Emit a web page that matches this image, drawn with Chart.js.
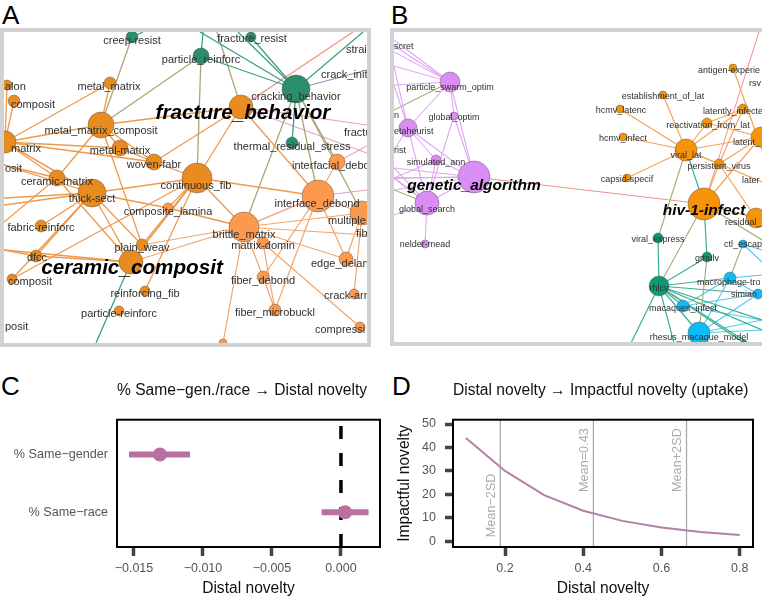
<!DOCTYPE html>
<html>
<head>
<meta charset="utf-8">
<style>
html,body{margin:0;padding:0;background:#fff;width:762px;height:598px;overflow:hidden}
canvas{position:absolute;display:block}
#netA,#netB{filter:blur(0.3px)}
.frame{position:absolute;border:4px solid #d2d2d2;box-sizing:border-box}
.letter{position:absolute;font:26px/30px "Liberation Sans",Arial,sans-serif;color:#000}
</style>
<script src="https://cdn.jsdelivr.net/npm/chart.js@4"></script>
</head>
<body>
<div class="letter" style="left:2px;top:0px">A</div>
<div class="letter" style="left:391px;top:0px">B</div>
<div class="letter" style="left:1px;top:371px">C</div>
<div class="letter" style="left:392px;top:371px">D</div>
<div class="frame" style="left:0;top:28px;width:371px;height:319px"></div>
<div class="frame" style="left:390px;top:28px;width:380px;height:318px"></div>
<canvas id="netA" width="363" height="311" style="left:4px;top:32px"></canvas>
<canvas id="netB" width="368" height="310" style="left:394px;top:32px"></canvas>
<canvas id="effectC" width="381" height="228" style="left:0;top:370px"></canvas>
<canvas id="curveD" width="381" height="228" style="left:381px;top:370px"></canvas>
<script>
// panel A network
var idsA = ["creep","fres","pr","cb","fb","mm","alon","comp1","mmc","mat","mm2","wf","trs","ifd","cf","cm","ts","id","mult","cl","fr","bm","md","pw","dfcc","cc","ed","comp2","fd","rf","ca","pr2","fm","cpr","bot",
  "t1","t2","t3","t4","t5","t6","t7","r1","r2","r3","r4","r5","l1","l2","l3","l4","l5","l6","b1","b2","fibr"];
var xA = [132,251,201,296,241,110,7,14,101,5,120,154,292,337,197,57,92,318,362,168,41,244,263,142,36,131,346,12,263,145,354,119,275,360,223,
  200,238,363,353,217,143,203,367,367,367,367,367,4,4,4,4,4,4,96,310,367];
var yA = [37,37,56,89,107,83,85,101,125,142,148,162,143,162,178,178,193,196,213,208,226,227,243,245,256,262,259,279,277,291,294,311,310,327,343,
  32,32,32,32,32,32,32,70,125,153,146,190,165,198,205,222,250,262,343,343,235];
var sizeA = [6,5,8,14,12,6,5,6,13,11,8,8,6,8,15,8,14,16,12,5,6,15,6,6,6,12,7,5,6,5,5,5,6,5,4,
  0,0,0,0,0,0,0,0,0,0,0,0,0,0,0,0,0,0,0,0,0];
var groupA = ["g","g","g","g","o","o","o","o","o","o","o","o","g","l","o","o","o","l","l","l","o","l","l","o","o","o","l","o","l","o","l","o","l","l","l",
  "o","o","o","o","o","o","o","o","o","o","o","o","o","o","o","o","o","o","o","o","o"];
var orangeEdgesA = ["mm mmc","mm mat","alon mat","comp1 mat","mmc mat","mmc mm2","mmc wf","mmc fb","mmc cm","mmc pw","mat wf","mat mm2","mat cm","mat ts","mm2 wf","wf cf","fb wf","fb cf","fb id",
  "cf ts","cf cc","cf pw","cf rf","cf cl","cf id","cf bm","ts fr","ts cc","ts dfcc","ts comp2","ts l1","ts l2","ts l3","ts cl","ts pw","cm l1","cm cc","cm l4","cl bm","dfcc cc","dfcc l5","l5 cc","cf comp2","mat ts"];
var lightEdgesA = ["bm cc","bm pw","bm id","bm mult","bm fibr","bm md","bm fd","bm bot","bm ed","md cpr","id mult","id ed","id fd","id fm","id ifd","mult ca","mult ed","fd fm","md fm"];
var tealEdgesA = ["cb pr","cb t1","cb t2","cb fres","cb t3","cb trs","pr t7","creep t6","cc b1"];
var oliveEdgesA = ["pr cf","pr mmc","fb t5","creep mmc","cb bm","cb id","cb mult","cb ifd"];
var salmonEdgesA = ["fb t4"];
var pinkEdgesA = ["fb r2","fb r3","ifd r4","bm id","id r5"];
var blueEdgesA = ["cb r1"];
var labelsA = ["creep-resist","fracture_resist","particle_reinforc","cracking_behavior","metal_matrix","metal_matrix_composit","metal-matrix","woven-fabr","thermal_residual_stress","continuous_fib","ceramic-matrix","thick-sect","interface_debond","composite_lamina","fabric-reinforc","brittle_matrix","matrix-domin","plain_weav","dfcc","fiber_debond","reinforcing_fib","particle-reinforc","fiber_microbuckl"];
var labelXA = [132,252,201,296,109,101,120,154,292,196,57,92,317,168,41,244,263,142,37,263,145,119,275];
var labelYA = [41,39,60,97,87,131,151,165,147,186,182,199,204,212,228,235,246,248,258,281,294,314,313];
var cutLabelsA = ["strai","crack_init","alon","composit","fractu","matrix","osit","interfacial_debo","multiple","fib","edge_delan","composit","crack-arr","compressi","posit"];
var cutXA = [346,321,5,11,344,11,5,292,328,356,311,8,324,315,5];
var cutYA = [50,75,87,105,133,149,169,166,221,234,264,282,296,330,327];
var bigLabelsA = ["fracture_behavior","ceramic_composit"];
var bigXA = [243,132];
var bigYA = [113,268];

// panel B network
var idsB = ["pso","go","eta","sa","ga","gs","nm","anti","est","hl","li","rfl","lat","hi","vl","pv","cap","hiv","res","ve","ctl","gm","mac","rh","sim","mi","rm","dot",
  "t1","t2","l1","l2","l3","l4","l5","l6","l7","l8","l9","l10","l11","r1","r2","r3","r4","r5","r6","r7","r8","b1","b2","b3","b4"];
var xB = [450,454,408,436,474,427,425,733,663,620,743,707,761,623,686,719,627,704,756,658,743,707,730,659,758,683,699,744,
  759,762,394,394,394,394,394,394,394,394,394,394,394,762,762,762,762,762,762,762,762,631,674,748,690];
var yB = [82,116,128,160,177,203,244,68,95,109,109,123,137,137,150,164,178,204,218,238,244,257,278,286,294,306,333,343,
  32,150,40,46,52,66,85,110,150,168,178,190,215,240,275,320,330,262,250,150,182,343,343,343,343];
var sizeB = [10,4,9,5,16,12,4,4,4,4,5,5,10,4,11,5,4,16,10,5,4,5,6,10,5,6,11,3,
  0,0,0,0,0,0,0,0,0,0,0,0,0,0,0,0,0,0,0,0,0,0,0,0,0];
var groupB = ["p","p","p","p","p","p","p","a","a","a","a","a","a","a","a","a","a","a","a","t","c","t","c","t","c","c","c","t",
  "a","a","a","a","a","a","a","a","a","a","a","a","a","a","a","a","a","a","a","a","a","a","a","a","a"];
var purpleEdgesB = ["pso l1","pso l2","pso l3","pso l4","pso l5","pso eta","pso go","pso ga","go ga","go gs","eta ga","eta sa","eta gs","eta l4","eta l5","eta l7","sa ga","sa gs","sa l9","ga gs","ga l8","ga l9","ga l10","gs l8","gs l9","gs l11","gs nm"];
var oliveEdgesB = ["pso l6","ga l9","gs l10","gs l9","vl ve","hiv rh","gm rm","ctl mac","hiv r1","hiv res"];
var salmonEdgesB = ["ga hiv","hiv t1"];
var orangeEdgesB = ["vl est","vl hl","vl hi","vl cap","vl rfl","vl li","vl lat","vl pv","pv lat","pv hiv","pv li","rfl lat","anti r7","hiv lat","pv res","rfl li","vl r8"];
var tealEdgesB = ["vl hiv","hiv gm","ve rh","gm rh","rh mac","rh mi","rh rm","rh b1","rh b2","rh b3","rh r3","rh r4","rh sim","rh dot"];
var cyanEdgesB = ["rm mac","rm sim","rm r3","rm r4","mi sim","mi mac","mac r2","mac sim","ctl r5","ctl r6","mi r3","rm b4"];
var labelsB = ["particle_swarm_optim","global_optim","simulated_ann","global_search","nelder-mead","establishment_of_lat","hcmv_latenc","reactivation_from_lat","hcmv_infect","viral_lat","persistent_virus","capsid-specif","viral_express","gmulv","rhlcv","macaques_infect","rhesus_macaque_model"];
var labelXB = [450,454,436,427,425,663,621,708,623,686,719,627,658,707,659,683,699];
var labelYB = [88,118,163,210,245,97,111,126,139,156,167,180,240,259,289,309,338];
var cutLabelsB = ["scret","n","etaheurist","rist","antigen-experie","rsv","latently_infecte","latent_","later","residual_","ctl_escap","macrophage-tro","simian"];
var cutXB = [394,394,394,394,698,749,703,733,742,725,724,697,731];
var cutYB = [47,116,132,151,71,84,112,143,181,223,245,283,295];
var bigLabelsB = ["genetic_algorithm","hiv-1-infect"];
var bigXB = [474,704];
var bigYB = [186,211];

// panel C effects
var categoriesC = ["% Same\u2212gender","% Same\u2212race"];
var estimateC = [-0.01312,0.0003];
var lowC = [-0.01536,-0.0014];
var highC = [-0.01094,0.0020];
var xTicksC = [-0.015,-0.010,-0.005,0];
var xTickLabelsC = ["\u22120.015","\u22120.010","\u22120.005","0.000"];

// panel D curve
var noveltyD = [0.1,0.2,0.3,0.4,0.5,0.6,0.7,0.8];
var uptakeD = [44,30,19.7,13,8.7,5.9,4,2.7];
var xTicksD = [0.2,0.4,0.6,0.8];
var yTicksD = [0,10,20,30,40,50];
var meanLinesD = [0.188,0.426,0.664];
var meanLabelsD = ["Mean\u22122SD","Mean=0.43","Mean+2SD"];
var meanLabelYD = [1.7,21,21];

var sans = '"Liberation Sans",Arial,sans-serif';
var nodeColors = {g:"#2c8d6d",o:"#e98b1f",l:"#fb9a4f",p:"#da8df2",a:"#f59409",t:"#0c9a74",c:"#0cbcf4"};
Chart.defaults.font.family = sans;
Chart.defaults.animation = false;
Chart.defaults.responsive = false;

function edgeSets(ids, xs, ys, list, color, width){
  return list.map(function(e){
    var p = e.split(" "), a = ids.indexOf(p[0]), b = ids.indexOf(p[1]);
    if(a < 0 || b < 0) return null;
    return {
      type: "scatter", showLine: true, order: 5, clip: 0, pointRadius: 0,
      borderColor: color, borderWidth: width,
      data: [{x: xs[a], y: ys[a]}, {x: xs[b], y: ys[b]}]
    };
  }).filter(Boolean);
}

function nodeSet(xs, ys, sizes, groups){
  var pts = [], cols = [];
  for(var i = 0; i < xs.length; i++){
    if(sizes[i] > 0){
      pts.push({x: xs[i], y: ys[i], r: sizes[i]});
      cols.push(nodeColors[groups[i]]);
    }
  }
  return {type: "bubble", order: 1, clip: 0, data: pts, backgroundColor: cols, borderColor: "rgba(80,80,80,0.55)", borderWidth: 0.8};
}

function textPlugin(o){
  return {
    id: "netText",
    afterDatasetsDraw: function(chart){
      var c = chart.ctx, sx = chart.scales.x, sy = chart.scales.y, a = chart.chartArea;
      c.save();
      c.beginPath();
      c.rect(a.left, a.top, a.width, a.height);
      c.clip();
      c.textBaseline = "middle";
      c.fillStyle = "#303030";
      c.font = o.size + "px " + sans;
      c.textAlign = "center";
      o.labels.forEach(function(t, i){ c.fillText(t, sx.getPixelForValue(o.labelX[i]), sy.getPixelForValue(o.labelY[i])); });
      c.textAlign = "left";
      o.cut.forEach(function(t, i){ c.fillText(t, sx.getPixelForValue(o.cutX[i]), sy.getPixelForValue(o.cutY[i])); });
      c.textAlign = "center";
      c.fillStyle = "#000";
      c.font = "italic bold " + o.bigSize + "px " + sans;
      o.big.forEach(function(t, i){ c.fillText(t, sx.getPixelForValue(o.bigX[i]), sy.getPixelForValue(o.bigY[i])); });
      c.restore();
    }
  };
}

function network(id, sets, range, text){
  return new Chart(document.getElementById(id), {
    type: "scatter",
    data: {datasets: sets},
    options: {
      layout: {padding: 0, autoPadding: false},
      plugins: {legend: {display: false}, tooltip: {enabled: false}},
      scales: {
        x: {type: "linear", display: false, min: range[0], max: range[1]},
        y: {type: "linear", display: false, reverse: true, min: range[2], max: range[3]}
      }
    },
    plugins: [textPlugin(text)]
  });
}

network("netA",
  [].concat(
    edgeSets(idsA, xA, yA, orangeEdgesA, "#ec9a4c", 1.3),
    edgeSets(idsA, xA, yA, lightEdgesA, "#f3a56c", 1.2),
    edgeSets(idsA, xA, yA, tealEdgesA, "#3aa182", 1.3),
    edgeSets(idsA, xA, yA, oliveEdgesA, "#a9a873", 1.3),
    edgeSets(idsA, xA, yA, salmonEdgesA, "#f0907a", 1.2),
    edgeSets(idsA, xA, yA, pinkEdgesA, "#e3a0c4", 1.1),
    edgeSets(idsA, xA, yA, blueEdgesA, "#8c90bb", 1.2),
    [nodeSet(xA, yA, sizeA, groupA)]
  ),
  [4,367,32,343],
  {size: 11, bigSize: 20.7, labels: labelsA, labelX: labelXA, labelY: labelYA, cut: cutLabelsA, cutX: cutXA, cutY: cutYA, big: bigLabelsA, bigX: bigXA, bigY: bigYA}
);

network("netB",
  [].concat(
    edgeSets(idsB, xB, yB, purpleEdgesB, "#e2a6f4", 1.1),
    edgeSets(idsB, xB, yB, oliveEdgesB, "#9fae73", 1.1),
    edgeSets(idsB, xB, yB, salmonEdgesB, "#f0928a", 1),
    edgeSets(idsB, xB, yB, orangeEdgesB, "#f3a455", 1.2),
    edgeSets(idsB, xB, yB, tealEdgesB, "#3caf90", 1.2),
    edgeSets(idsB, xB, yB, cyanEdgesB, "#4dcbe8", 1.1),
    [nodeSet(xB, yB, sizeB, groupB)]
  ),
  [394,762,32,342],
  {size: 9, bigSize: 15.5, labels: labelsB, labelX: labelXB, labelY: labelYB, cut: cutLabelsB, cutX: cutXB, cutY: cutYB, big: bigLabelsB, bigX: bigXB, bigY: bigYB}
);

var boxPlugin = {
  id: "box",
  afterDraw: function(chart){
    var a = chart.chartArea, c = chart.ctx;
    c.save();
    c.strokeStyle = "#000";
    c.lineWidth = 2;
    c.strokeRect(a.left, a.top, a.width, a.height);
    c.restore();
  }
};

// C: two intervals, the dashed zero line, then the point estimates
var setsC = [{
  type: "scatter", showLine: true, order: 3, pointRadius: 0, borderColor: "#000", borderWidth: 3.5, borderDash: [13,14],
  data: [{x: 0, y: 0.4}, {x: 0, y: 2.6}]
}];
categoriesC.forEach(function(name, i){
  var row = categoriesC.length - i;
  setsC.push({
    type: "scatter", showLine: true, order: 2, pointRadius: 0, borderColor: "#b96f9f", borderWidth: 6,
    data: [{x: lowC[i], y: row}, {x: highC[i], y: row}]
  });
  setsC.push({
    type: "scatter", order: 1, pointRadius: 7, backgroundColor: "#b96f9f", borderWidth: 0,
    data: [{x: estimateC[i], y: row}]
  });
});

new Chart(document.getElementById("effectC"), {
  type: "scatter",
  data: {datasets: setsC},
  options: {
    layout: {padding: {right: 1, top: 0, bottom: 0, left: 0}, autoPadding: false},
    plugins: {
      legend: {display: false}, tooltip: {enabled: false},
      title: {display: true, fullSize: false, align: "start", text: "% Same\u2212gen./race \u2192 Distal novelty", color: "#111", font: {size: 15.6, weight: "normal"}, padding: {top: 11, bottom: 20}}
    },
    scales: {
      x: {
        type: "linear", min: -0.01623, max: 0.00283,
        afterBuildTicks: function(s){ s.ticks = xTicksC.map(function(v){ return {value: v}; }); },
        afterFit: function(s){ s.height = 51; },
        grid: {drawOnChartArea: false, tickLength: 9, tickWidth: 3.5, tickColor: "#444"},
        border: {display: false},
        ticks: {color: "#555", font: {size: 12.5}, padding: 5, maxRotation: 0, autoSkip: false, callback: function(v, i){ return xTickLabelsC[i]; }},
        title: {display: true, text: "Distal novelty", color: "#111", font: {size: 15.6}, padding: {top: 0, bottom: 0}}
      },
      y: {
        type: "linear", min: 0.4, max: 2.6,
        afterBuildTicks: function(s){ s.ticks = [{value: 1}, {value: 2}]; },
        afterFit: function(s){ s.width = 117; },
        grid: {display: false},
        border: {display: false},
        ticks: {color: "#555", font: {size: 12.6}, padding: 1, callback: function(v){ return categoriesC[categoriesC.length - v]; }}
      }
    }
  },
  plugins: [boxPlugin]
});

// D: uptake curve with the mean +/- 2 SD markers
var setsD = meanLinesD.map(function(v){
  return {
    type: "scatter", showLine: true, order: 3, pointRadius: 0, borderColor: "#a9a9a9", borderWidth: 1.3,
    data: [{x: v, y: -2.44}, {x: v, y: 51.84}]
  };
});
setsD.push({
  type: "scatter", showLine: true, order: 1, pointRadius: 0, borderColor: "#b67fa6", borderWidth: 2,
  data: noveltyD.map(function(v, i){ return {x: v, y: uptakeD[i]}; })
});

var meanText = {
  id: "meanText",
  afterDatasetsDraw: function(chart){
    var c = chart.ctx;
    meanLabelsD.forEach(function(t, i){
      c.save();
      c.translate(chart.scales.x.getPixelForValue(meanLinesD[i]) - 9, chart.scales.y.getPixelForValue(meanLabelYD[i]));
      c.rotate(-Math.PI / 2);
      c.textAlign = "left";
      c.textBaseline = "middle";
      c.fillStyle = "#ababab";
      c.font = "12.7px " + sans;
      c.fillText(t, 0, 0);
      c.restore();
    });
  }
};

new Chart(document.getElementById("curveD"), {
  type: "scatter",
  data: {datasets: setsD},
  options: {
    layout: {padding: {right: 9, top: 0, bottom: 0, left: 0}, autoPadding: false},
    plugins: {
      legend: {display: false}, tooltip: {enabled: false},
      title: {display: true, fullSize: false, align: "start", text: "Distal novelty \u2192 Impactful novelty (uptake)", color: "#111", font: {size: 15.6, weight: "normal"}, padding: {top: 11, bottom: 20}}
    },
    scales: {
      x: {
        type: "linear", min: 0.067, max: 0.834,
        afterBuildTicks: function(s){ s.ticks = xTicksD.map(function(v){ return {value: v}; }); },
        afterFit: function(s){ s.height = 51; },
        grid: {drawOnChartArea: false, tickLength: 9, tickWidth: 3.5, tickColor: "#444"},
        border: {display: false},
        ticks: {color: "#555", font: {size: 12.5}, padding: 5, maxRotation: 0, autoSkip: false, callback: function(v){ return v.toFixed(1); }},
        title: {display: true, text: "Distal novelty", color: "#111", font: {size: 15.6}, padding: {top: 0, bottom: 0}}
      },
      y: {
        type: "linear", min: -2.44, max: 51.84,
        afterBuildTicks: function(s){ s.ticks = yTicksD.map(function(v){ return {value: v}; }); },
        afterFit: function(s){ s.width = 72; },
        grid: {drawOnChartArea: false, tickLength: 8, tickWidth: 3.5, tickColor: "#444"},
        border: {display: false},
        ticks: {color: "#555", font: {size: 12.5}, padding: 9, callback: function(v){ return v; }},
        title: {display: true, text: "Impactful novelty", color: "#111", font: {size: 15.6}, padding: {top: 14, bottom: 0}}
      }
    }
  },
  plugins: [boxPlugin, meanText]
});
</script>
</body>
</html>
